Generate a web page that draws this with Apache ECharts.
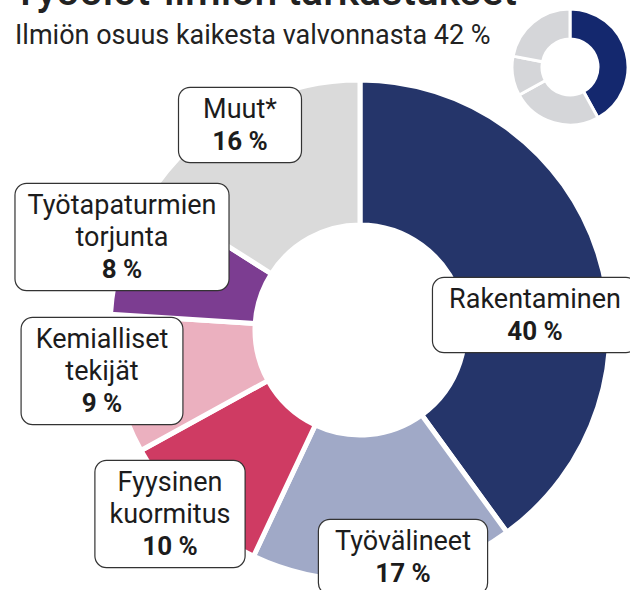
<!DOCTYPE html>
<html>
<head>
<meta charset="utf-8">
<script src="https://cdn.jsdelivr.net/npm/echarts@6/dist/echarts.min.js"></script>
<style>
html,body{margin:0;padding:0;background:#fff;}
#chart{width:630px;height:590px;}
</style>
</head>
<body>
<div id="chart"></div>
<script>
// Data
const categories = ['Rakentaminen', 'Työvälineet', 'Fyysinen\nkuormitus', 'Kemialliset\ntekijät', 'Työtapaturmien\ntorjunta', 'Muut*'];
const shares = [40, 17, 10, 9, 8, 16];
const insetShares = [42, 25, 11, 22];
const titleText = 'Työolot-ilmiön tarkastukset';
const subtitleText = 'Ilmiön osuus kaikesta valvonnasta 42 %';

// Layout / style (not data)
const colors = ['#25356a', '#a0a9c7', '#cf3b63', '#ebb0bf', '#7c3d91', '#dadada'];
const insetColors = ['#14286e', '#d5d6d9', '#d5d6d9', '#d5d6d9'];
const labelPos = [[535, 315], [403, 557], [170, 514], [102, 371], [122, 237], [240, 125]];
const labelPadX = [16, 16, 14, 14, 12, 24];

const chart = echarts.init(document.getElementById('chart'), null, {renderer: 'svg'});

const mainData = categories.map((c, i) => ({
  name: c,
  value: shares[i],
  itemStyle: {color: colors[i]},
  label: {padding: [5, labelPadX[i]]}
}));

const insetData = insetShares.map((v, i) => ({
  name: 'inset' + i,
  value: v,
  itemStyle: {color: insetColors[i]}
}));

chart.setOption({
  animation: false,
  title: [
    {
      text: titleText,
      left: 8,
      top: -35,
      textStyle: {fontFamily: 'Roboto', fontSize: 41, fontWeight: 500, color: '#222'}
    },
    {
      text: subtitleText,
      left: 10,
      top: 16,
      textStyle: {fontFamily: 'Roboto', fontSize: 27, fontWeight: 'normal', color: '#222'}
    }
  ],
  series: [
    {
      type: 'pie',
      center: [360, 330],
      radius: [105, 250],
      startAngle: 90,
      clockwise: true,
      silent: true,
      itemStyle: {borderColor: '#fff', borderWidth: 5},
      label: {
        show: true,
        position: 'inside',
        formatter: p => '{n|' + p.name + '}\n{v|' + p.value + ' %}',
        backgroundColor: '#fff',
        borderColor: '#333',
        borderWidth: 1.2,
        borderRadius: 11,
        align: 'center',
        rich: {
          n: {fontFamily: 'Roboto', fontSize: 27, color: '#1c1c1c', lineHeight: 32, align: 'center'},
          v: {fontFamily: 'Roboto', fontSize: 26, fontWeight: 'bold', color: '#1c1c1c', lineHeight: 32, align: 'center'}
        }
      },
      labelLine: {show: false},
      labelLayout: function (params) {
        const p = labelPos[params.dataIndex];
        return {x: p[0], y: p[1], align: 'center', verticalAlign: 'middle'};
      },
      data: mainData
    },
    {
      type: 'pie',
      center: [570, 67],
      radius: [28, 58],
      startAngle: 90,
      clockwise: true,
      silent: true,
      itemStyle: {borderColor: '#fff', borderWidth: 3},
      label: {show: false},
      labelLine: {show: false},
      data: insetData
    }
  ]
});
</script>
</body>
</html>
